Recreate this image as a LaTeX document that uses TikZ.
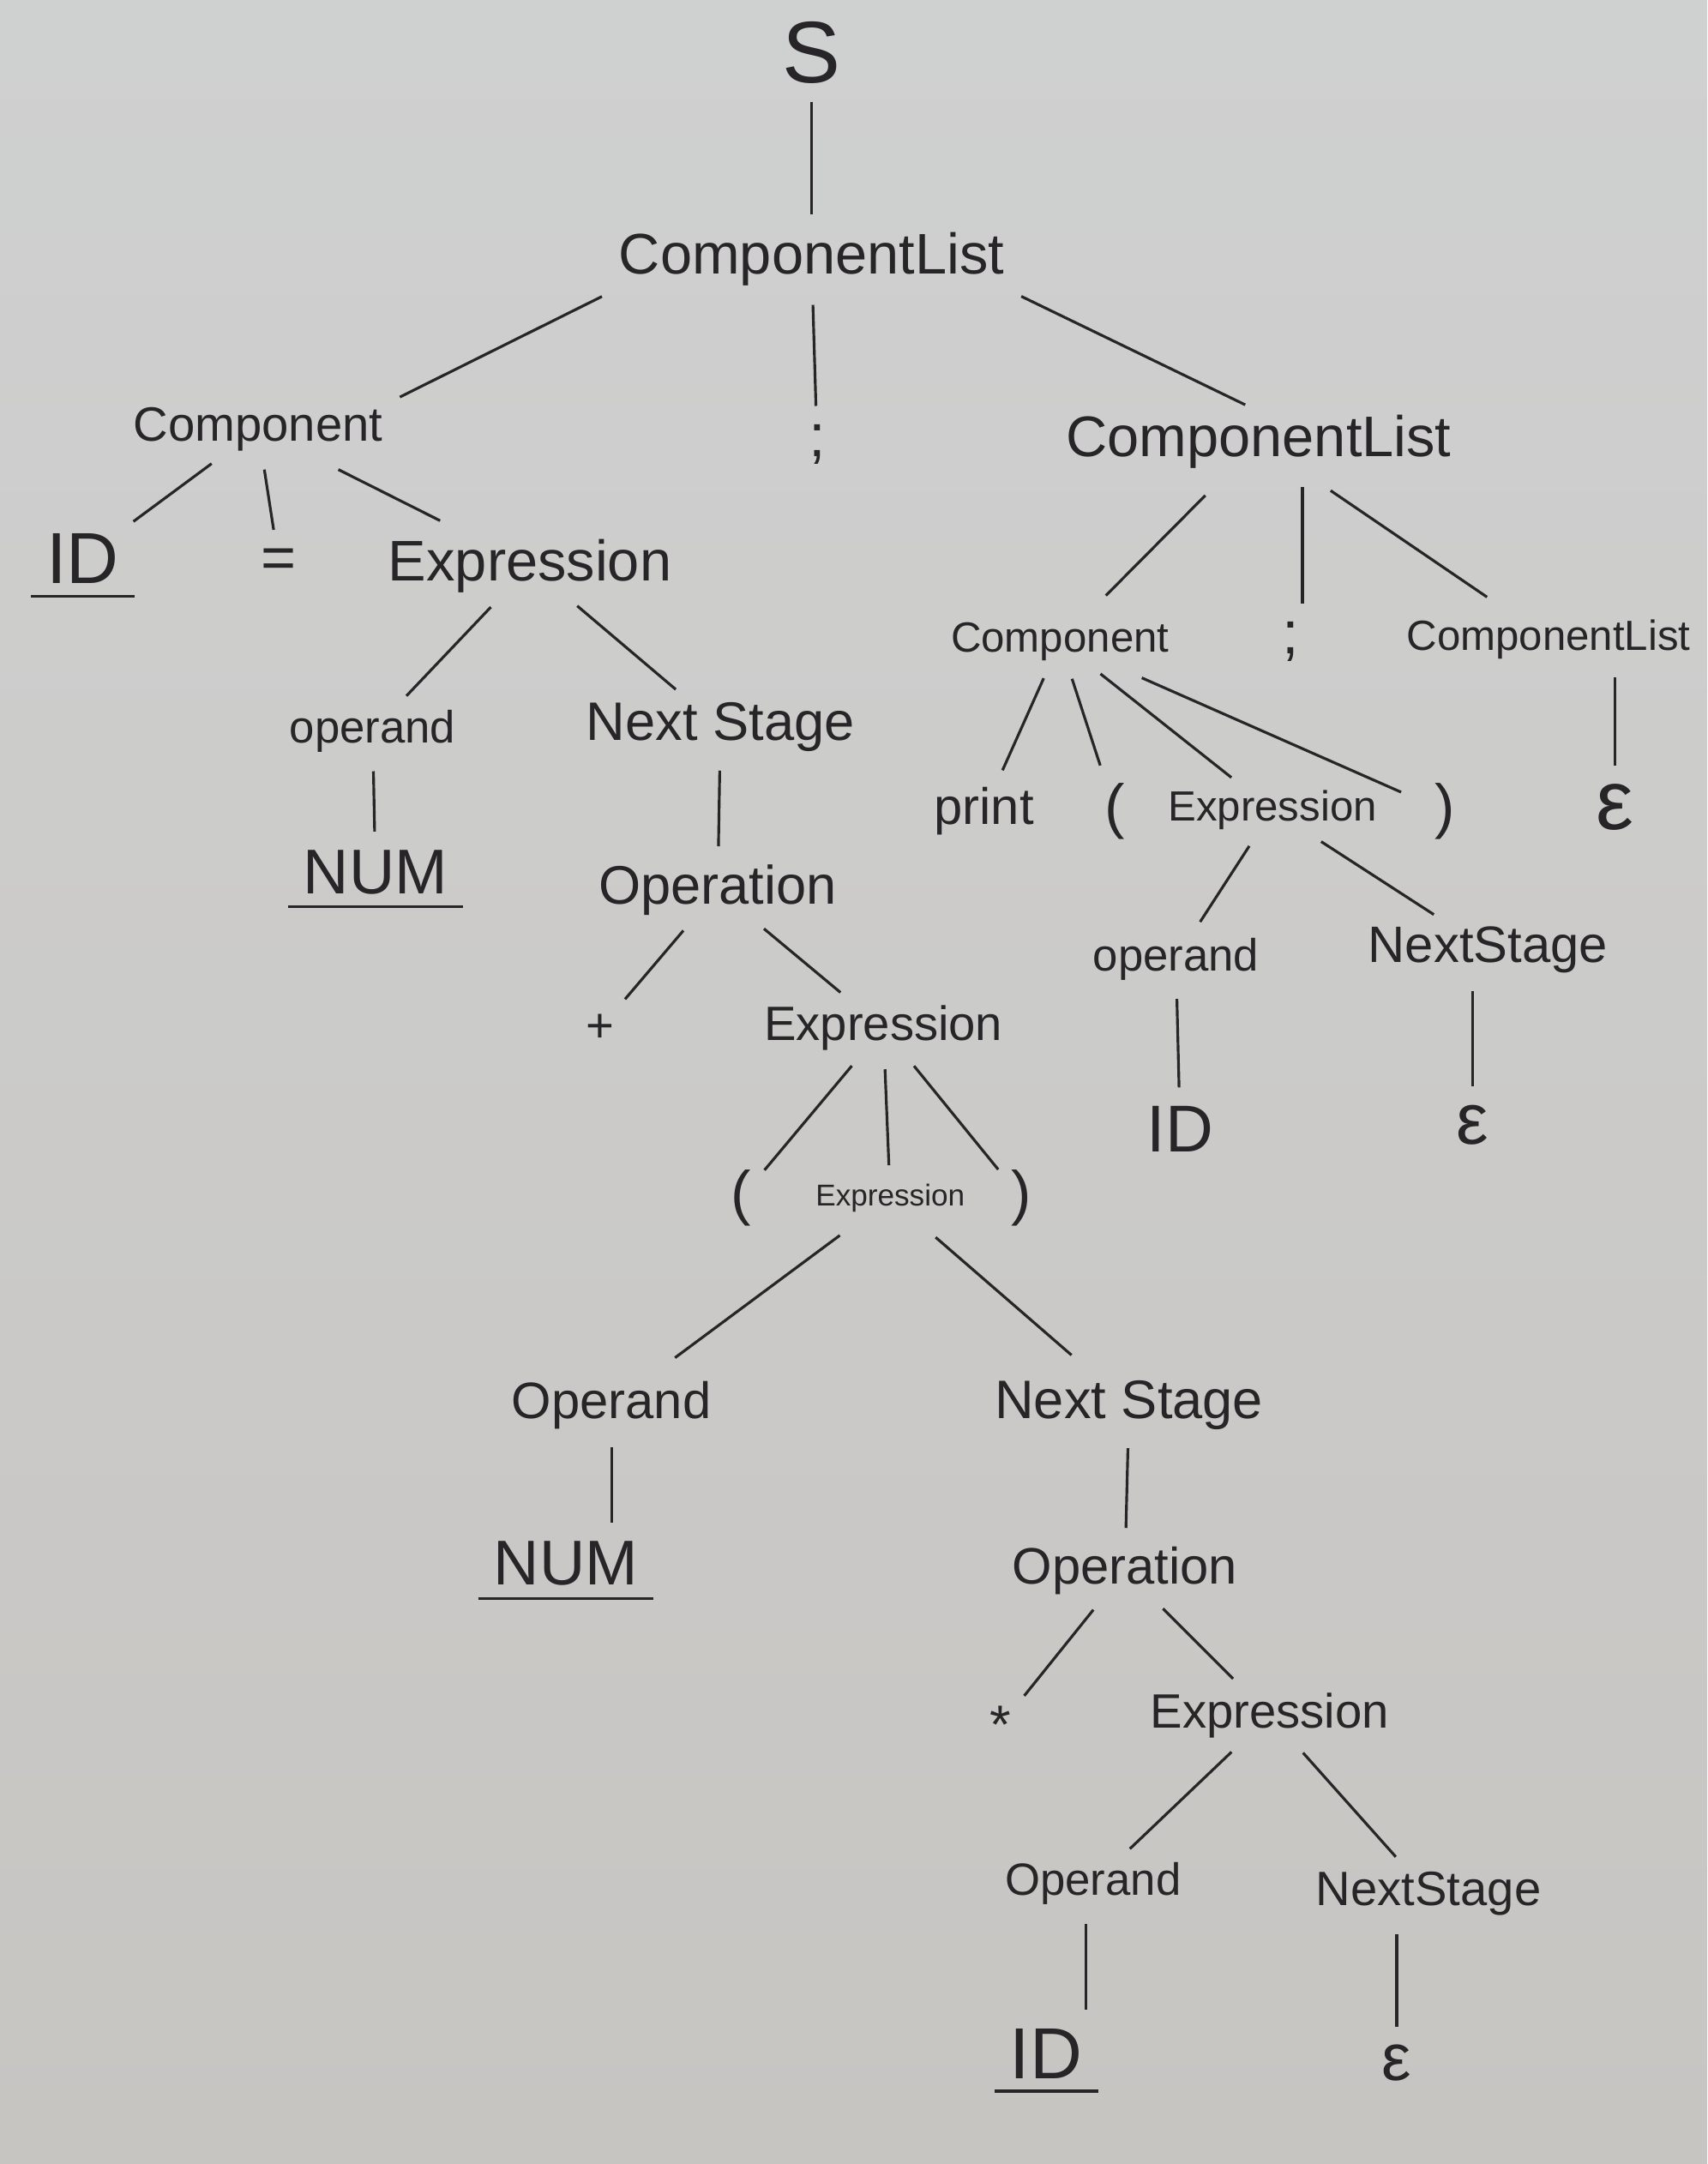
\documentclass[tikz,border=0pt]{standalone}
\usepackage{fontspec}
\setmainfont{Liberation Sans}
\usepackage{xcolor}
\usepackage{tikz}
\usetikzlibrary{positioning}
\definecolor{paperA}{RGB}{207,208,208}
\definecolor{paperB}{RGB}{199,197,194}
\definecolor{ink}{RGB}{40,37,40}

\begin{document}
\begin{tikzpicture}[x=0.016095cm, y=-0.016095cm,
		every node/.style={text=ink, inner sep=1pt, align=center}, % all labels in ink, tight boxes
		txt/.style={font=\fontsize{#1}{#1}\selectfont}, % font size per label
		branch/.style={draw=ink, line width=0.9pt, shorten <=5pt, shorten >=5pt},
		far/.style={shorten <=11pt, shorten >=11pt}, % long slanted branches drawn shorter
		uline/.style={append after command={([yshift=-3pt]\tikzlastnode.south west) edge[draw=ink, line width=0.9pt, shorten <=-4pt, shorten >=-4pt] ([yshift=-3pt]\tikzlastnode.south east)}}
		]
		% paper
		\shade[top color=paperA, bottom color=paperB] (0,0) rectangle (1237,1568);
		
		% Root and first level
		\node[txt=29] (s) at (588,38) {S};
		\node[txt=19] (cl1) at (588,188) {ComponentList};
		\node[txt=16] (comp1) at (187,311) {Component};
		\node[txt=20] (semi1) at (592,322) {;};
		\node[txt=19] (cl2) at (912,320) {ComponentList};
		
		% Left branch: ID = Expression
		\node[txt=24, uline] (id1) at (60,405) {ID};
		\node[txt=20] (eq) at (202,408) {=};
		\node[txt=19] (expr1) at (384,410) {Expression};
		\node[txt=15] (opd1) at (270,530) {operand};
		\node[txt=18] (nxt1) at (522,527) {Next Stage};
		\node[txt=21, uline] (num1) at (272,632) {NUM};
		\node[txt=18] (opn1) at (520,645) {Operation};
		\node[txt=16] (plus) at (435,745) {+};
		\node[txt=16] (expr2) at (640,745) {Expression};
		\node[txt=20] (lpar1) at (537,868) {(};
		\node[txt=10] (expr3) at (645,868) {Expression};
		\node[txt=20] (rpar1) at (740,868) {)};
		\node[txt=17] (opd2) at (443,1018) {Operand};
		\node[txt=18] (nxt2) at (818,1018) {Next Stage};
		\node[txt=21, uline] (num2) at (410,1133) {NUM};
		\node[txt=17] (opn2) at (815,1138) {Operation};
		\node[txt=18] (star) at (725,1250) {*};
		\node[txt=16] (expr4) at (920,1243) {Expression};
		\node[txt=15] (opd3) at (792,1365) {Operand};
		\node[txt=16] (nxt3) at (1035,1372) {NextStage};
		\node[txt=24, uline] (id3) at (758,1488) {ID};
		\node[txt=22] (eps3) at (1012,1495) {ε};
		
		% Right branch: print ( Expression ) ; ComponentList
		\node[txt=14] (comp2) at (768,465) {Component};
		\node[txt=20] (semi2) at (935,465) {;};
		\node[txt=14] (cl3) at (1122,463) {ComponentList};
		\node[txt=28] (eps1) at (1170,585) {ε};
		\node[txt=17] (print) at (713,588) {print};
		\node[txt=20] (lpar2) at (808,588) {(};
		\node[txt=14] (expr5) at (922,587) {Expression};
		\node[txt=20] (rpar2) at (1047,588) {)};
		\node[txt=15] (opd4) at (852,695) {operand};
		\node[txt=17] (nxt4) at (1078,688) {NextStage};
		\node[txt=22] (id2) at (855,818) {ID};
		\node[txt=24] (eps2) at (1067,815) {ε};
		
		% Edges, top part
		\draw[branch] (s) -- (cl1);
		\draw[branch] (cl1.south west) -- (comp1.north east);
		\draw[branch] (cl1) -- (semi1);
		\draw[branch] (cl1.south east) -- (cl2.north);
		
		% Edges, left branch
		\draw[branch] (comp1) -- (id1);
		\draw[branch] (comp1) -- (eq);
		\draw[branch, far] (comp1) -- (expr1);
		\draw[branch] (expr1) -- (opd1);
		\draw[branch] (expr1) -- (nxt1);
		\draw[branch] (opd1) -- (num1);
		\draw[branch] (nxt1) -- (opn1);
		\draw[branch] (opn1) -- (plus);
		\draw[branch] (opn1) -- (expr2);
		\draw[branch] (expr2) -- (lpar1);
		\draw[branch] (expr2) -- (expr3);
		\draw[branch] (expr2) -- (rpar1);
		\draw[branch, far] (expr3) -- (opd2);
		\draw[branch, far] (expr3) -- (nxt2);
		\draw[branch] (opd2) -- (opd2 |- num2.north);
		\draw[branch] (nxt2) -- (opn2);
		\draw[branch] (opn2) -- (star);
		\draw[branch] (opn2) -- (expr4);
		\draw[branch] (expr4) -- (opd3);
		\draw[branch] (expr4) -- (nxt3);
		\draw[branch] (opd3.south -| id3.north east) -- (id3.north east);
		\draw[branch] (nxt3.south -| eps3) -- (eps3);
		
		% Edges, right branch
		\draw[branch, far] (cl2) -- (comp2);
		\draw[branch] (cl2.south -| semi2.north east) -- (semi2.north east);
		\draw[branch, far] (cl2) -- (cl3);
		\draw[branch] (cl3.south -| eps1) -- (eps1);
		\draw[branch] (comp2) -- (print);
		\draw[branch] (comp2) -- (lpar2);
		\draw[branch] (comp2) -- (expr5);
		\draw[branch, far] (comp2) -- (rpar2);
		\draw[branch] (expr5) -- (opd4);
		\draw[branch] (expr5) -- (nxt4);
		\draw[branch] (opd4) -- (id2);
		\draw[branch] (nxt4.south -| eps2) -- (eps2);
	\end{tikzpicture}
\end{document}
